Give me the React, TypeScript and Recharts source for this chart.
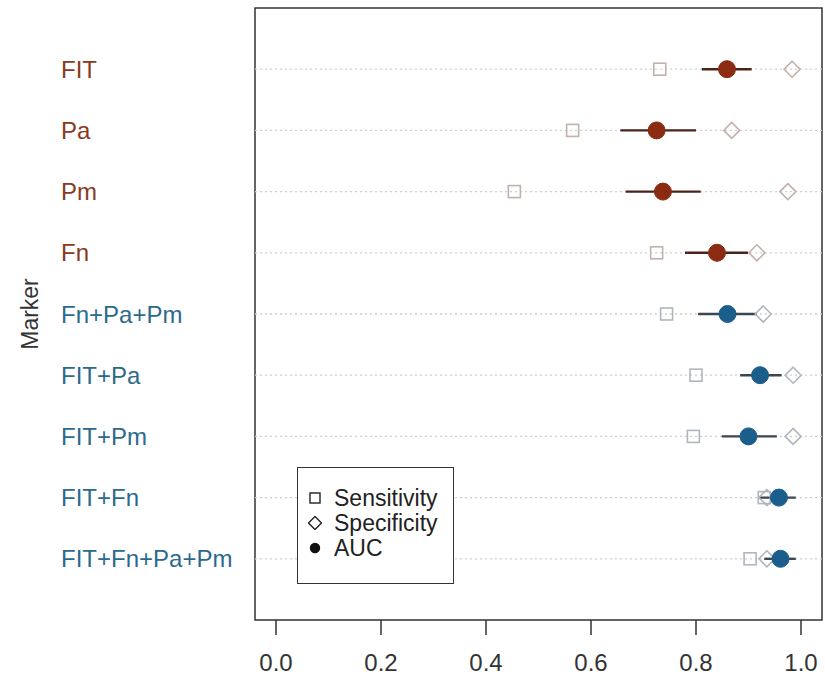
import React from 'react';
import { ScatterChart, Scatter, XAxis, YAxis, ReferenceLine, ReferenceArea, Legend } from 'recharts';

const markers = ['FIT', 'Pa', 'Pm', 'Fn', 'Fn+Pa+Pm', 'FIT+Pa', 'FIT+Pm', 'FIT+Fn', 'FIT+Fn+Pa+Pm'];
const groups = ['single', 'single', 'single', 'single', 'combo', 'combo', 'combo', 'combo', 'combo'];
const sensitivity = [0.731, 0.565, 0.454, 0.725, 0.744, 0.8, 0.795, 0.93, 0.903];
const specificity = [0.983, 0.868, 0.975, 0.916, 0.928, 0.985, 0.985, 0.935, 0.935];
const auc = [0.859, 0.725, 0.737, 0.84, 0.86, 0.922, 0.9, 0.958, 0.961];
const aucLow = [0.811, 0.656, 0.666, 0.779, 0.804, 0.884, 0.849, 0.92, 0.93];
const aucHigh = [0.906, 0.8, 0.809, 0.899, 0.916, 0.963, 0.954, 0.99, 0.99];
const xTicks = [0, 0.2, 0.4, 0.6, 0.8, 1.0];
const legendNames = ['Sensitivity', 'Specificity', 'AUC'];

const FONT = '"Liberation Sans", Arial, Helvetica, sans-serif';
const COLORS: Record<string, { label: string; dot: string; ci: string; open: string }> = {
  single: { label: '#8a3a20', dot: '#8b2b12', ci: '#4a2418', open: '#c2b1aa' },
  combo: { label: '#2c6a8c', dot: '#1b5e8c', ci: '#3a4650', open: '#aeb6c0' },
};

const rows = markers.map((m, i) => ({ name: m, y: i + 1, g: groups[i] }));
const sensData = rows.map((r, i) => ({ ...r, x: sensitivity[i] }));
const specData = rows.map((r, i) => ({ ...r, x: specificity[i] }));
const aucData = rows.map((r, i) => ({ ...r, x: auc[i] }));

const SquareShape = (p: any) => {
  const c = COLORS[p.payload.g];
  const s = 12;
  return <rect x={p.cx - s / 2} y={p.cy - s / 2} width={s} height={s} fill="none" stroke={c.open} strokeWidth={1.6} />;
};
const DiamondShape = (p: any) => {
  const c = COLORS[p.payload.g];
  const r = 8;
  const { cx, cy } = p;
  return (
    <path
      d={`M${cx},${cy - r} L${cx + r},${cy} L${cx},${cy + r} L${cx - r},${cy} Z`}
      fill="none"
      stroke={c.open}
      strokeWidth={1.6}
    />
  );
};
const DotShape = (p: any) => {
  const c = COLORS[p.payload.g];
  return <circle cx={p.cx} cy={p.cy} r={8.5} fill={c.dot} stroke={c.dot} strokeWidth={1} />;
};

const YTick = (p: any) => {
  const idx = p.payload.value - 1;
  const c = COLORS[groups[idx]];
  return (
    <text x={61} y={p.y} dy="0.36em" textAnchor="start" fill={c.label} fontSize={24} fontFamily={FONT}>
      {markers[idx]}
    </text>
  );
};

const YTitle = (p: any) => {
  const vb = p.viewBox || { y: 8, height: 612 };
  const cy = vb.y + vb.height / 2;
  return (
    <text x={30} y={cy} transform={`rotate(-90, 30, ${cy})`} textAnchor="middle" dominantBaseline="central" fill="#333" fontSize={23} fontFamily={FONT}>
      Marker
    </text>
  );
};

const legendIcon = (i: number) => {
  if (i === 0) return <rect x={2} y={2} width={10} height={10} fill="none" stroke="#222" strokeWidth={1.4} />;
  if (i === 1) return <path d="M7,0.5 L13.5,7 L7,13.5 L0.5,7 Z" fill="none" stroke="#222" strokeWidth={1.4} />;
  return <circle cx={7} cy={7} r={5.2} fill="#111" />;
};

const LegendBox = () => (
  <div
    style={{
      position: 'relative',
      width: 157,
      height: 117,
      boxSizing: 'border-box',
      border: '1.5px solid #333',
      background: '#fff',
      fontFamily: FONT,
      fontSize: 23,
      color: '#222',
    }}
  >
    {legendNames.map((n, i) => (
      <div key={n} style={{ position: 'absolute', left: 0, top: 18 + i * 25, height: 25, width: 155 }}>
        <svg width={14} height={14} style={{ position: 'absolute', left: 10, top: 5 }}>
          {legendIcon(i)}
        </svg>
        <span style={{ position: 'absolute', left: 36, top: 0, lineHeight: '25px', whiteSpace: 'nowrap' }}>{n}</span>
      </div>
    ))}
  </div>
);

export default function App() {
  return (
    <div style={{ position: 'absolute', left: 0, top: 0, background: '#fff' }}>
      <ScatterChart width={825} height={680} margin={{ top: 8, right: 3, bottom: 0, left: 0 }}>
        <XAxis
          type="number"
          dataKey="x"
          domain={[-0.04, 1.04]}
          ticks={xTicks}
          tickFormatter={(v: number) => v.toFixed(1)}
          axisLine={false}
          tickLine={{ stroke: '#333', strokeWidth: 1.5 }}
          tickSize={15}
          tickMargin={19}
          height={60}
          allowDataOverflow
          tick={{ fontSize: 24, fill: '#333', fontFamily: FONT }}
        />
        <YAxis
          type="number"
          dataKey="y"
          domain={[0, 10]}
          reversed
          ticks={[1, 2, 3, 4, 5, 6, 7, 8, 9]}
          width={255}
          axisLine={false}
          tickLine={false}
          tick={<YTick />}
          label={<YTitle />}
          allowDataOverflow
        />
        {rows.map((r) => (
          <ReferenceLine key={'g' + r.name} y={r.y} stroke="#cfcfcf" strokeWidth={1.3} strokeDasharray="2 3" />
        ))}
        {rows.map((r, i) => (
          <ReferenceLine
            key={'ci' + r.name}
            segment={[
              { x: aucLow[i], y: r.y },
              { x: aucHigh[i], y: r.y },
            ]}
            stroke={COLORS[r.g].ci}
            strokeWidth={2.4}
          />
        ))}
        <ReferenceArea x1={-0.04} x2={1.04} y1={0} y2={10} fill="none" fillOpacity={0} stroke="#333" strokeWidth={1.5} />
        <Scatter name="Sensitivity" data={sensData} shape={SquareShape} isAnimationActive={false} />
        <Scatter name="Specificity" data={specData} shape={DiamondShape} isAnimationActive={false} />
        <Scatter name="AUC" data={aucData} shape={DotShape} isAnimationActive={false} />
        <Legend
          layout="vertical"
          align="center"
          verticalAlign="middle"
          content={<LegendBox />}
          wrapperStyle={{ left: 297, top: 467, width: 157, height: 117 }}
        />
      </ScatterChart>
    </div>
  );
}
